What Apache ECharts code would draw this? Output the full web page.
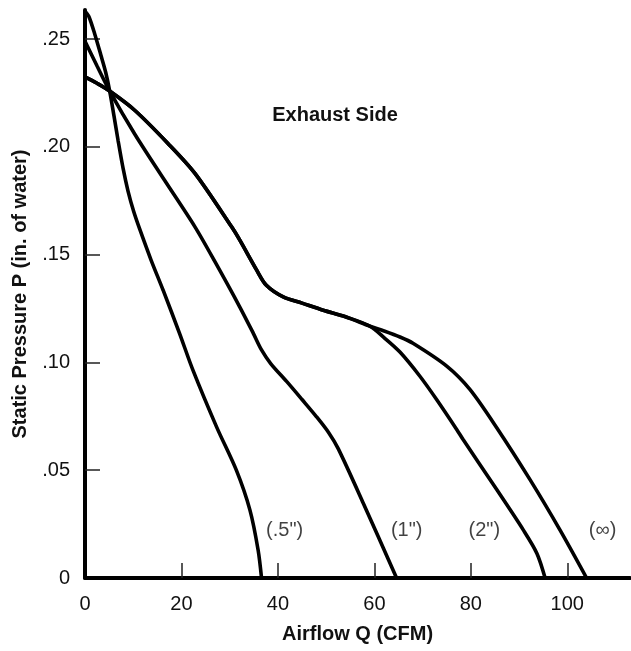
<!DOCTYPE html>
<html>
<head>
<meta charset="utf-8">
<script src="https://cdn.jsdelivr.net/npm/echarts@6/dist/echarts.min.js"></script>
<style>html,body{margin:0;padding:0;background:#fff}#c{width:631px;height:651px}</style>
</head>
<body>
<div id="c"></div>
<script>
// ---- data (Airflow Q in CFM, Static Pressure P in inches of water) ----
var curveHalf = [[0,0.263],[0.8,0.2605],[2.0,0.2525],[3.3,0.2425],[4.3,0.2345],[5.12,0.2259],[6.0,0.2145],[6.85,0.2031],[7.9,0.190],[8.92,0.1795],[10.1,0.170],[11.35,0.1618],[13.7,0.1475],[16.2,0.1335],[19.6,0.1135],[22.4,0.0963],[27.3,0.070],[31.4,0.0499],[34.2,0.0315],[35.9,0.0129],[36.6,0]];
var curveOne = [[0,0.249],[2.5,0.2375],[5.12,0.2259],[10.3,0.206],[16.5,0.1845],[22.8,0.1629],[27,0.1465],[32.1,0.1257],[34.9,0.1135],[36.6,0.1058],[38.5,0.0995],[41.8,0.0912],[45,0.0828],[48,0.0748],[50.5,0.0675],[52.5,0.060],[57.7,0.0347],[64.6,0]];
var curveTwo = [[0,0.2325],[2.5,0.2295],[5.12,0.2259],[10.3,0.217],[17.2,0.2016],[22.8,0.1877],[30.4,0.1629],[32.1,0.1567],[35.6,0.1428],[37.6,0.1358],[41.1,0.1304],[45,0.1275],[49.4,0.1242],[54,0.1212],[59.1,0.1168],[62,0.1115],[65.3,0.1048],[69.4,0.0937],[72.9,0.0828],[77.1,0.0688],[78.4,0.0642],[85.4,0.0409],[90.9,0.0222],[93.7,0.0114],[95.4,0]];
var curveInf = [[0,0.2325],[2.5,0.2295],[5.12,0.2259],[10.3,0.217],[17.2,0.2016],[22.8,0.1877],[30.4,0.1629],[32.1,0.1567],[35.6,0.1428],[37.6,0.1358],[41.1,0.1304],[45,0.1275],[49.4,0.1242],[54,0.1212],[59.1,0.1168],[62,0.1146],[65.3,0.1118],[68,0.1089],[75,0.0983],[79.8,0.0875],[85.4,0.0696],[92.3,0.0455],[98.5,0.0222],[104,0]];
var curveLabels = ['(.5")', '(1")', '(2")', '(\u221E)'];
var curveLabelX = [41.4, 66.7, 82.8, 107.3];
var curveLabelY = [0.022, 0.022, 0.022, 0.022];
var xTickLabels = [0, 20, 40, 60, 80, 100];
var xTickMarks = [20, 40, 60, 80, 100];
var yTickLabels = [0, 0.05, 0.10, 0.15, 0.20, 0.25];
var yTickMarks = [0.05, 0.10, 0.15, 0.20, 0.25];
var titleText = 'Exhaust Side';
var xName = 'Airflow Q (CFM)';
var yName = 'Static Pressure P (in. of water)';

var regular = '"Liberation Sans", Arial, sans-serif';
var bold = '"Liberation Sans", Arial, sans-serif';

function lineSeries(d) {
  return {type: 'line', data: d, smooth: 0.3, showSymbol: false, symbol: 'none',
          lineStyle: {color: '#000', width: 3.6}, z: 3, animation: false};
}

var chart = echarts.init(document.getElementById('c'), null, {renderer: 'canvas'});
chart.setOption({
  animation: false,
  backgroundColor: '#fff',
  grid: {left: 85, right: 1, top: 10, bottom: 73, containLabel: false, outerBoundsMode: 'none'},
  xAxis: {
    type: 'value', min: 0, max: 113, interval: 20,
    name: xName, nameLocation: 'middle', nameGap: 46,
    nameTextStyle: {fontFamily: bold, fontWeight: 'bold', fontSize: 20, color: '#111'},
    axisLine: {show: true, onZero: false, lineStyle: {color: '#000', width: 4}},
    axisTick: {show: true, inside: true, length: 15, customValues: xTickMarks, lineStyle: {color: '#222', width: 1.5}},
    axisLabel: {show: true, customValues: xTickLabels, margin: 16, fontFamily: regular, fontSize: 20, color: '#111',
      formatter: function (v) { return String(v); }},
    splitLine: {show: false}
  },
  yAxis: {
    type: 'value', min: 0, max: 0.2635, interval: 0.05,
    name: yName, nameLocation: 'middle', nameGap: 55,
    nameTextStyle: {fontFamily: bold, fontWeight: 'bold', fontSize: 20, color: '#111'},
    axisLine: {show: true, onZero: false, lineStyle: {color: '#000', width: 4}},
    axisTick: {show: true, inside: true, length: 15, customValues: yTickMarks, lineStyle: {color: '#222', width: 1.5}},
    axisLabel: {show: true, customValues: yTickLabels, margin: 15, fontFamily: regular, fontSize: 20, color: '#111',
      formatter: function (v) { if (Math.abs(v) < 1e-9) return '0'; return v.toFixed(2).replace(/^0/, ''); }},
    splitLine: {show: false}
  },
  graphic: [{
    type: 'text', x: 335, y: 115,
    style: {text: titleText, fontFamily: bold, fontWeight: 'bold', fontSize: 20, fill: '#111',
            textAlign: 'center', textVerticalAlign: 'middle'}
  }],
  series: [
    lineSeries(curveHalf),
    lineSeries(curveOne),
    lineSeries(curveTwo),
    lineSeries(curveInf),
    {
      type: 'scatter', symbolSize: 0, silent: true, z: 4,
      data: curveLabels.map(function (t, i) { return {name: t, value: [curveLabelX[i], curveLabelY[i]]}; }),
      label: {show: true, position: 'inside', formatter: function (p) { return p.name; },
              fontFamily: regular, fontSize: 20, color: '#111'}
    }
  ]
});
</script>
</body>
</html>
